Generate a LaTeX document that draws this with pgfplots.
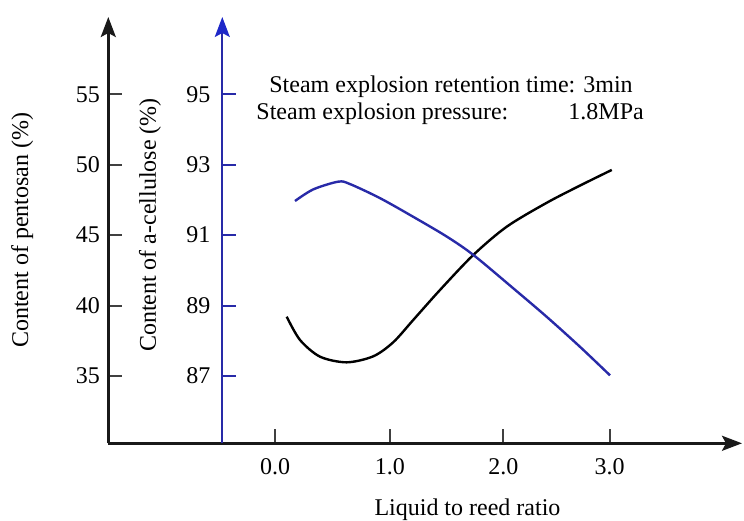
\documentclass[border=0pt]{standalone}
\usepackage{fontspec}
\setmainfont{Liberation Serif}
\usepackage{pgfplots}
\pgfplotsset{compat=1.18}
\usetikzlibrary{arrows.meta}
\definecolor{cblue}{RGB}{40,42,168}
\definecolor{ablue}{RGB}{30,40,200}
\begin{document}
\fontsize{12}{14}\selectfont
\begin{tikzpicture}
\path[use as bounding box] (-54.15pt,-38.35pt) rectangle (317.85pt,221.65pt);
% pentosan axis (black)
\begin{axis}[
  scale only axis, width=316.85pt, height=213.15pt, at={(0pt,0pt)}, anchor=south west,
  xmin=-1.495, xmax=4.188, ymin=30.22, ymax=60.49,
  axis x line=bottom, axis y line=left,
  axis line style={line width=1.3pt, black!90, -{Stealth[length=10pt,width=7.5pt,inset=2pt]}},
  tick align=inside, major tick length=7pt,
  tick style={line width=1pt, black!75},
  xtick={0,1.031,2.048,3}, xticklabels={0.0,1.0,2.0,3.0},
  ytick={35,40,45,50,55},
  x tick label style={yshift=-3.3pt},
  /pgf/number format/assume math mode=true,
  ticklabel style={font=\fontsize{12}{14}\selectfont},
  xlabel={Liquid to reed ratio},
  xlabel style={at={(axis description cs:0.5668,0)}, anchor=center, yshift=-33.35pt, font=\fontsize{12}{14}\selectfont},
  ylabel={Content of pentosan (\%)},
  ylabel style={at={(axis description cs:-0.136,0.5)}, anchor=center, font=\fontsize{12}{14}\selectfont},
  clip=false,
]
\addplot[black, line width=1.2pt, smooth] coordinates {
(0.105,39.21) (0.224,37.56) (0.404,36.37) (0.643,35.97) (0.882,36.40)
(1.061,37.40) (1.240,38.98) (1.480,41.11) (1.778,43.59) (2.078,45.60)
(2.437,47.30) (2.735,48.52) (3.020,49.63)
};
\node[anchor=base west, inner sep=0pt, font=\fontsize{12}{14}\selectfont] at (axis cs:-0.054,55.16) {Steam explosion retention time: 3min};
\node[anchor=base west, inner sep=0pt, font=\fontsize{12}{14}\selectfont] at (axis cs:-0.170,53.23) {Steam explosion pressure:};
\node[anchor=base west, inner sep=0pt, font=\fontsize{12}{14}\selectfont] at (axis cs:2.628,53.23) {1.8MPa};
\end{axis}
% a-cellulose axis (blue)
\begin{axis}[
  scale only axis, width=259.85pt, height=213.15pt, at={(57pt,0pt)}, anchor=south west,
  xmin=-0.473, xmax=4.188, ymin=85.09, ymax=97.195,
  axis x line=none, xtick=\empty,
  axis y line=left,
  axis line style={line width=1pt, cblue, -{Stealth[length=10pt,width=7.5pt,inset=2pt,fill=ablue,color=ablue]}},
  tick align=inside, major tick length=7pt,
  tick style={line width=1pt, cblue},
  ytick={87,89,91,93,95},
  y tick label style={xshift=-1.8pt},
  /pgf/number format/assume math mode=true,
  ticklabel style={font=\fontsize{12}{14}\selectfont},
  ylabel={Content of a-cellulose (\%)},
  ylabel style={at={(axis description cs:-0.139,0.512)}, anchor=center, font=\fontsize{12}{14}\selectfont},
  clip=false,
]
\addplot[cblue, line width=1.2pt, smooth] coordinates {
(0.179,91.97) (0.343,92.30) (0.568,92.52) (0.673,92.45) (0.942,92.05)
(1.240,91.52) (1.540,90.96) (1.778,90.44) (2.137,89.49) (2.437,88.68)
(2.735,87.83) (3.004,87.02)
};
\end{axis}
\end{tikzpicture}
\end{document}
